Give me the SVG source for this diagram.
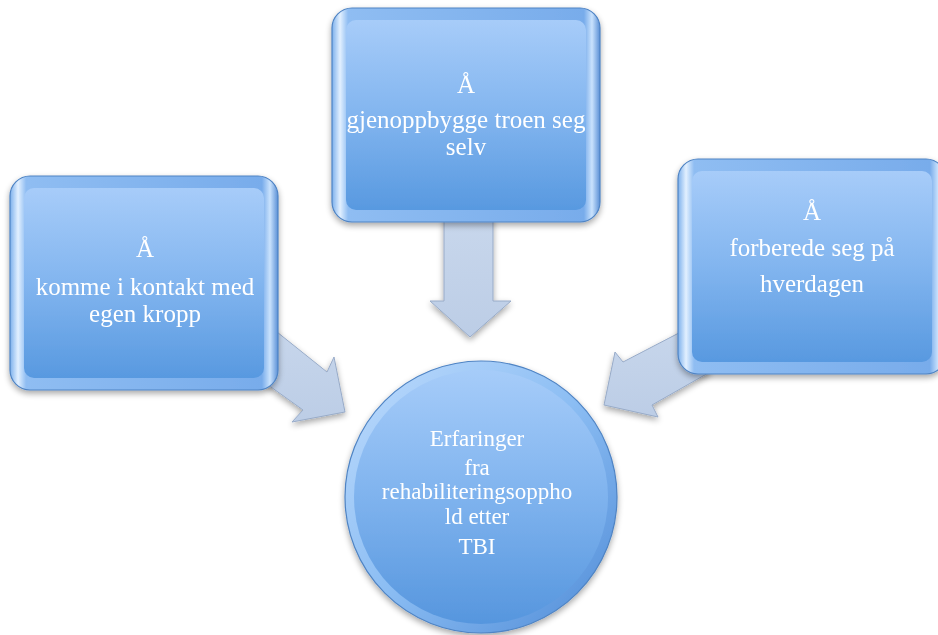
<svg xmlns="http://www.w3.org/2000/svg" width="938" height="635" viewBox="0 0 938 635">
<defs>
<linearGradient id="face" x1="0" y1="0" x2="0" y2="1">
<stop offset="0" stop-color="#a7ccf9"/>
<stop offset="0.5" stop-color="#82b5ef"/>
<stop offset="1" stop-color="#5899e0"/>
</linearGradient>
<linearGradient id="bevel" x1="0" y1="0" x2="1" y2="0">
<stop offset="0" stop-color="#7cb0ec"/>
<stop offset="0.03" stop-color="#e2f0ff"/>
<stop offset="0.06" stop-color="#8fbdf2"/>
<stop offset="0.94" stop-color="#78aceb"/>
<stop offset="0.97" stop-color="#c9e2fd"/>
<stop offset="1" stop-color="#5a90d6"/>
</linearGradient>
<linearGradient id="cface" x1="0" y1="0" x2="0" y2="1">
<stop offset="0" stop-color="#a6ccf9"/>
<stop offset="0.5" stop-color="#7fb3ee"/>
<stop offset="1" stop-color="#5696de"/>
</linearGradient>
<linearGradient id="crim" x1="0" y1="0" x2="1" y2="1">
<stop offset="0" stop-color="#bfdcfd"/>
<stop offset="0.5" stop-color="#8bbdf3"/>
<stop offset="1" stop-color="#4e8ad6"/>
</linearGradient>
<linearGradient id="arr" x1="0" y1="0" x2="0" y2="1">
<stop offset="0" stop-color="#c8d7ec"/>
<stop offset="1" stop-color="#bccde6"/>
</linearGradient>
<filter id="sh" x="-10%" y="-10%" width="120%" height="125%">
<feGaussianBlur in="SourceAlpha" stdDeviation="3"/>
<feOffset dx="0" dy="3" result="b"/>
<feComponentTransfer><feFuncA type="linear" slope="0.35"/></feComponentTransfer>
<feMerge><feMergeNode/><feMergeNode in="SourceGraphic"/></feMerge>
</filter>
</defs>
<style>
.outer{fill:url(#bevel);stroke:#4f84c4;stroke-width:1.2}
.inner{fill:url(#face)}
.arrow{fill:url(#arr);stroke:#98abc8;stroke-width:1}
.t{font-family:"Liberation Serif","DejaVu Serif",serif;fill:#ffffff;text-anchor:middle;font-size:25px}
.tc{font-family:"Liberation Serif","DejaVu Serif",serif;fill:#ffffff;text-anchor:middle;font-size:23px}
</style>
<rect width="938" height="635" fill="#ffffff"/>
<g id="connectors" filter="url(#sh)">
<polygon class="arrow" points="444,215 493,215 493,301 511,301 470,337 430,301 444,301"/>
<polygon class="arrow" points="262,320 327,372 334,357 345,412 292,422 303,410 250,372"/>
<polygon class="arrow" points="700,322 623,362 615,352 604,405 658,417 652,405 710,372"/>
</g>
<g id="node-top" filter="url(#sh)">
<rect class="outer" x="332" y="8" width="268" height="214" rx="20"/>
<rect class="inner" x="346" y="20" width="240" height="190" rx="10"/>
<text class="t" x="466" y="93">Å</text>
<text class="t" x="466" y="128">gjenoppbygge troen seg</text>
<text class="t" x="466" y="155">selv</text>
</g>
<g id="node-left" filter="url(#sh)">
<rect class="outer" x="10" y="176" width="268" height="214" rx="20"/>
<rect class="inner" x="24" y="188" width="240" height="190" rx="10"/>
<text class="t" x="145" y="257">Å</text>
<text class="t" x="145" y="295">komme i kontakt med</text>
<text class="t" x="145" y="322">egen kropp</text>
</g>
<g id="node-right" filter="url(#sh)">
<rect class="outer" x="678" y="159" width="268" height="215" rx="20"/>
<rect class="inner" x="692" y="171" width="240" height="191" rx="10"/>
<text class="t" x="812" y="220">Å</text>
<text class="t" x="812" y="256">forberede seg på</text>
<text class="t" x="812" y="292">hverdagen</text>
</g>
<g id="node-center" filter="url(#sh)">
<circle cx="481" cy="497" r="136" fill="url(#crim)" stroke="#4f84c4" stroke-width="1.2"/>
<circle cx="481" cy="497" r="127" fill="url(#cface)"/>
<text class="tc" x="477" y="446">Erfaringer</text>
<text class="tc" x="477" y="475">fra</text>
<text class="tc" x="477" y="499">rehabiliteringsoppho</text>
<text class="tc" x="477" y="524">ld etter</text>
<text class="tc" x="477" y="554">TBI</text>
</g>
</svg>
